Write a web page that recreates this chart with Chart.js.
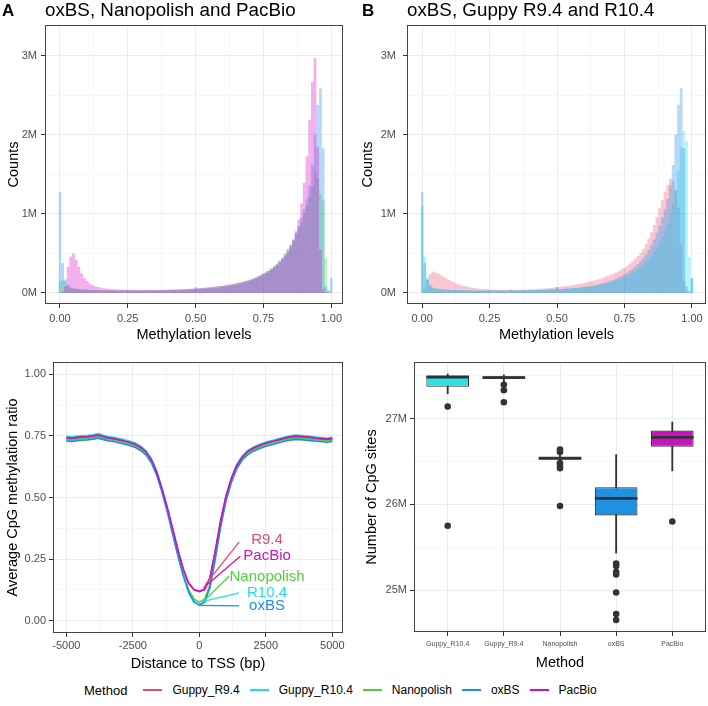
<!DOCTYPE html>
<html><head><meta charset="utf-8">
<script src="https://cdn.jsdelivr.net/npm/chart.js@4.4.0/dist/chart.umd.min.js"></script>
<style>
html,body{margin:0;padding:0;background:#fff;width:708px;height:706px;overflow:hidden;font-family:"Liberation Sans",Arial,sans-serif;}
canvas{position:absolute;}
#legend{position:absolute;left:84px;top:681px;height:18px;display:flex;align-items:center;white-space:nowrap;}
#legend .ttl{font-size:13px;margin-right:16px;color:#000;}
#legend .sw{width:19px;height:1.6px;margin-right:10px;}
#legend .lb{font-size:12px;margin-right:10px;color:#000;}
</style></head><body>
<canvas id="cA" width="354" height="345" style="left:0;top:0"></canvas>
<canvas id="cB" width="354" height="345" style="left:354px;top:0"></canvas>
<canvas id="cC" width="354" height="330" style="left:0;top:345px"></canvas>
<canvas id="cD" width="354" height="330" style="left:354px;top:345px"></canvas>
<div id="legend"></div>
<script>
// ---------------- DATA ----------------
const METHODS = ['Guppy_R9.4','Guppy_R10.4','Nanopolish','oxBS','PacBio'];
const METHOD_COLORS = ['#E9496B','#1FE0E6','#55CC3E','#1E8FE8','#CC10C0'];

const BIN_CENTERS = [0.00,0.01,0.02,0.03,0.04,0.05,0.06,0.07,0.08,0.09,
0.10,0.11,0.12,0.13,0.14,0.15,0.16,0.17,0.18,0.19,
0.20,0.21,0.22,0.23,0.24,0.25,0.26,0.27,0.28,0.29,
0.30,0.31,0.32,0.33,0.34,0.35,0.36,0.37,0.38,0.39,
0.40,0.41,0.42,0.43,0.44,0.45,0.46,0.47,0.48,0.49,
0.50,0.51,0.52,0.53,0.54,0.55,0.56,0.57,0.58,0.59,
0.60,0.61,0.62,0.63,0.64,0.65,0.66,0.67,0.68,0.69,
0.70,0.71,0.72,0.73,0.74,0.75,0.76,0.77,0.78,0.79,
0.80,0.81,0.82,0.83,0.84,0.85,0.86,0.87,0.88,0.89,
0.90,0.91,0.92,0.93,0.94,0.95,0.96,0.97,0.98,0.99,1.00];

// histogram counts (millions)
const OXBS_HIST = [1.28,0.38,0.17,0.10,0.07,0.06,0.052,0.048,0.045,0.042,
0.040,0.038,0.037,0.036,0.035,0.034,0.033,0.033,0.032,0.032,
0.031,0.031,0.030,0.030,0.030,0.036,0.030,0.030,0.030,0.030,
0.030,0.030,0.031,0.040,0.031,0.031,0.032,0.032,0.033,0.033,
0.034,0.035,0.036,0.037,0.038,0.039,0.040,0.042,0.043,0.045,
0.075,0.048,0.050,0.052,0.055,0.058,0.061,0.064,0.068,0.072,
0.080,0.082,0.087,0.092,0.098,0.105,0.113,0.125,0.132,0.143,
0.155,0.168,0.182,0.198,0.215,0.240,0.255,0.278,0.303,0.332,
0.365,0.400,0.440,0.490,0.550,0.610,0.680,0.760,0.850,0.950,
1.06,1.19,1.36,1.62,2.00,2.38,2.59,1.83,0.08,0.02,0.19];

const NANOPOLISH_HIST = [0.15,0.16,0.14,0.09,0.065,0.055,0.050,0.046,0.043,0.041,
0.040,0.039,0.038,0.037,0.036,0.035,0.035,0.034,0.034,0.033,
0.033,0.033,0.032,0.032,0.032,0.032,0.032,0.032,0.032,0.032,
0.033,0.033,0.033,0.034,0.034,0.035,0.035,0.036,0.037,0.038,
0.039,0.040,0.041,0.042,0.044,0.045,0.047,0.049,0.051,0.053,
0.056,0.058,0.061,0.064,0.067,0.070,0.074,0.078,0.082,0.087,
0.092,0.097,0.103,0.109,0.116,0.124,0.132,0.141,0.151,0.162,
0.174,0.187,0.201,0.217,0.234,0.253,0.274,0.297,0.322,0.350,
0.380,0.415,0.455,0.500,0.550,0.610,0.670,0.740,0.820,0.900,
1.00,1.10,1.22,1.35,1.55,1.45,1.25,1.18,0.44,0.04,0.00];

const PACBIO_HIST = [0,0.01,0.08,0.33,0.46,0.50,0.42,0.33,0.25,0.19,
0.15,0.12,0.10,0.085,0.074,0.066,0.060,0.055,0.051,0.048,
0.046,0.044,0.043,0.042,0.041,0.040,0.040,0.039,0.039,0.038,
0.038,0.038,0.038,0.038,0.038,0.038,0.039,0.039,0.040,0.040,
0.041,0.042,0.043,0.044,0.045,0.047,0.048,0.050,0.052,0.054,
0.057,0.059,0.062,0.065,0.068,0.071,0.075,0.079,0.083,0.087,
0.092,0.097,0.102,0.108,0.114,0.121,0.128,0.136,0.145,0.155,
0.165,0.177,0.190,0.204,0.220,0.237,0.256,0.277,0.300,0.326,
0.355,0.388,0.425,0.468,0.520,0.580,0.660,0.780,0.930,1.13,
1.39,1.73,2.19,2.67,2.97,1.85,0.55,0.05,0.01,0,0];

const R94_HIST = [0,0.05,0.18,0.24,0.27,0.26,0.245,0.225,0.205,0.185,
0.165,0.148,0.132,0.118,0.105,0.094,0.085,0.077,0.070,0.064,
0.059,0.055,0.051,0.048,0.046,0.044,0.043,0.042,0.041,0.040,
0.040,0.040,0.040,0.040,0.041,0.041,0.042,0.043,0.044,0.045,
0.047,0.048,0.050,0.052,0.054,0.056,0.059,0.062,0.065,0.068,
0.072,0.076,0.080,0.084,0.089,0.094,0.100,0.106,0.112,0.119,
0.126,0.134,0.142,0.151,0.160,0.170,0.181,0.193,0.205,0.218,
0.232,0.247,0.263,0.280,0.300,0.320,0.345,0.372,0.402,0.435,
0.470,0.510,0.560,0.620,0.690,0.770,0.860,0.960,1.07,1.18,
1.28,1.37,1.44,1.42,1.30,1.08,0.62,0.15,0.02,0,0];

const R104_HIST = [1.10,0.46,0.20,0.09,0.06,0.05,0.045,0.042,0.040,0.038,
0.036,0.035,0.034,0.033,0.032,0.031,0.030,0.030,0.029,0.029,
0.028,0.028,0.028,0.028,0.028,0.030,0.028,0.028,0.028,0.028,
0.028,0.028,0.029,0.034,0.029,0.030,0.030,0.031,0.032,0.032,
0.033,0.034,0.035,0.036,0.037,0.038,0.040,0.041,0.043,0.044,
0.065,0.047,0.049,0.051,0.053,0.055,0.058,0.061,0.064,0.067,
0.071,0.075,0.079,0.084,0.089,0.095,0.101,0.108,0.116,0.124,
0.133,0.143,0.154,0.166,0.179,0.194,0.210,0.228,0.248,0.270,
0.295,0.322,0.352,0.386,0.425,0.470,0.520,0.575,0.640,0.710,
0.79,0.88,0.99,1.12,1.30,1.55,1.85,2.05,1.92,0.45,0.18];

// panel C: distance to TSS (bp) and average methylation ratio
const TSS_DIST = [-5000,-4800,-4600,-4400,-4200,-4000,-3800,-3600,-3400,-3200,
-3000,-2800,-2600,-2400,-2200,-2000,-1800,-1600,-1400,-1200,
-1000,-800,-600,-400,-200,0,200,400,600,800,
1000,1200,1400,1600,1800,2000,2200,2400,2600,2800,
3000,3200,3400,3600,3800,4000,4200,4400,4600,4800,5000];
const TSS_R94 = [0.740,0.738,0.741,0.743,0.744,0.747,0.751,0.745,0.739,0.736,
0.731,0.726,0.720,0.713,0.700,0.682,0.650,0.600,0.532,0.455,
0.370,0.284,0.208,0.153,0.127,0.120,0.128,0.175,0.283,0.405,
0.503,0.575,0.627,0.660,0.682,0.696,0.706,0.714,0.721,0.726,
0.732,0.738,0.743,0.746,0.745,0.743,0.741,0.738,0.736,0.734,0.737];
const TSS_R104 = [0.748,0.746,0.749,0.751,0.752,0.755,0.759,0.753,0.747,0.744,
0.739,0.734,0.728,0.721,0.708,0.690,0.658,0.607,0.535,0.452,
0.360,0.268,0.186,0.119,0.078,0.066,0.078,0.140,0.262,0.392,
0.496,0.575,0.631,0.666,0.689,0.703,0.713,0.721,0.728,0.733,
0.739,0.745,0.750,0.753,0.752,0.750,0.748,0.745,0.743,0.741,0.745];
const TSS_NANOPOLISH = [0.736,0.734,0.737,0.739,0.740,0.743,0.747,0.741,0.735,0.732,
0.727,0.722,0.716,0.709,0.696,0.678,0.646,0.596,0.527,0.447,
0.358,0.268,0.189,0.125,0.087,0.075,0.087,0.147,0.262,0.389,
0.492,0.568,0.622,0.656,0.678,0.692,0.702,0.710,0.717,0.722,
0.728,0.734,0.739,0.742,0.741,0.739,0.737,0.734,0.732,0.730,0.733];
const TSS_OXBS = [0.730,0.728,0.731,0.733,0.734,0.737,0.741,0.735,0.729,0.726,
0.721,0.716,0.710,0.703,0.690,0.672,0.640,0.590,0.520,0.440,
0.350,0.260,0.180,0.115,0.075,0.063,0.075,0.135,0.250,0.380,
0.485,0.560,0.615,0.650,0.672,0.686,0.696,0.704,0.711,0.716,
0.722,0.728,0.733,0.736,0.735,0.733,0.731,0.728,0.726,0.724,0.727];
const TSS_PACBIO = [0.743,0.741,0.744,0.746,0.747,0.750,0.754,0.748,0.742,0.739,
0.734,0.729,0.723,0.716,0.703,0.685,0.653,0.603,0.535,0.458,
0.372,0.285,0.208,0.152,0.125,0.118,0.126,0.174,0.283,0.406,
0.505,0.577,0.629,0.663,0.685,0.699,0.709,0.717,0.724,0.729,
0.735,0.741,0.746,0.749,0.748,0.746,0.744,0.741,0.739,0.737,0.740];

// panel C direct labels (data coordinates)
const C_LABELS = ['R9.4','PacBio','Nanopolish','R10.4','oxBS'];
const C_LABEL_COLORS = ['#E9496B','#CC10C0','#55CC3E','#1FE0E6','#1E8FE8'];
const C_LABEL_FROM_X = [220,150,220,150,0];
const C_LABEL_FROM_Y = [0.145,0.133,0.085,0.078,0.062];
const C_LABEL_TO_X = [1500,1540,1120,1500,1500];
const C_LABEL_TO_Y = [0.320,0.262,0.180,0.113,0.060];
const C_LABEL_TEXT_X = [2545,2545,2545,2545,2545];
const C_LABEL_TEXT_Y = [0.330,0.262,0.177,0.113,0.060];

// panel D: boxplot statistics (millions of CpG sites)
const BOX_METHODS = ['Guppy_R10.4','Guppy_R9.4','Nanopolish','oxBS','PacBio'];
const BOX_FILL = ['#2EE0E2','#E9496B','#55CC3E','#2090E0','#CC12BE'];
const BOX_Q1 = [27.37,27.463,26.522,25.87,26.67];
const BOX_MEDIAN = [27.485,27.478,26.537,26.07,26.78];
const BOX_Q3 = [27.50,27.493,26.552,26.20,26.86];
const BOX_WHISK_LO = [27.29,27.42,26.49,25.43,26.39];
const BOX_WHISK_HI = [27.52,27.51,26.58,26.58,26.96];
const OUTLIER_METHOD = [1,1,2,2,2,3,3,3,3,3,3,4,4,4,4,4,4,4,5];
const OUTLIER_VALUE = [27.14,25.75,27.395,27.33,27.19,26.64,26.61,26.48,26.45,26.42,25.98,25.31,25.28,25.21,25.18,24.97,24.72,24.65,25.80];

// ticks
const HIST_X_MAJOR = [0,0.25,0.5,0.75,1];
const HIST_X_MINOR = [0.125,0.375,0.625,0.875];
const HIST_X_LABELS = ['0.00','0.25','0.50','0.75','1.00'];
const HIST_Y_MAJOR = [0,1,2,3];
const HIST_Y_MINOR = [0.5,1.5,2.5];
const HIST_Y_LABELS = ['0M','1M','2M','3M'];
const TSS_X_MAJOR = [-5000,-2500,0,2500,5000];
const TSS_X_MINOR = [-3750,-1250,1250,3750];
const TSS_X_LABELS = ['-5000','-2500','0','2500','5000'];
const RATIO_Y_MAJOR = [0,0.25,0.5,0.75,1];
const RATIO_Y_MINOR = [0.125,0.375,0.625,0.875];
const RATIO_Y_LABELS = ['0.00','0.25','0.50','0.75','1.00'];
const CPG_Y_MAJOR = [25,26,27];
const CPG_Y_MINOR = [25.5,26.5,27.5];
const CPG_Y_LABELS = ['25M','26M','27M'];
const BOX_X_MAJOR = [1,2,3,4,5];

// ---------------- STYLE / HELPERS ----------------
const FONT = '"Liberation Sans", Arial, Helvetica, sans-serif';
Chart.defaults.font.family = FONT;
Chart.defaults.animation = false;
Chart.defaults.responsive = false;
Chart.defaults.devicePixelRatio = 1;
Chart.defaults.events = [];
Chart.defaults.plugins.legend.display = false;
Chart.defaults.plugins.tooltip.enabled = false;

function near(list, v){ return list.findIndex(m => Math.abs(m - v) < 1e-9); }
function axis(major, minor, labels, o){
  const isMinor = c => c.tick && near(minor, c.tick.value) >= 0;
  return {
    type:'linear', min:o.min, max:o.max, offset:false, bounds:'data',
    afterBuildTicks: s => { s.ticks = major.concat(minor).sort((a,b)=>a-b).map(v => ({value:v})); },
    afterFit: s => { if (o.width !== undefined) s.width = o.width; if (o.height !== undefined) s.height = o.height;
                     s.paddingLeft = 0; s.paddingRight = 0; s.paddingTop = 0; s.paddingBottom = 0; },
    ticks:{ autoSkip:false, maxRotation:0, minRotation:0, color:'#4D4D4D', padding:o.pad,
      font:{size:o.tickSize || 11, family:FONT},
      callback: v => { const i = near(major, v); return i < 0 ? '' : labels[i]; } },
    grid:{ offset:false,
           color: c => isMinor(c) ? '#F2F2F2' : '#EBEBEB',
           lineWidth: c => isMinor(c) ? 0.6 : 1,
           tickColor: c => isMinor(c) ? 'rgba(0,0,0,0)' : '#333333',
           tickLength:4, drawTicks:true },
    border:{display:false},
    title:{display:true, text:o.title, color:'#000', font:{size:14.5, family:FONT},
           padding:{top:o.tpad, bottom:o.tpad}}
  };
}

const panelText = {
  id:'panelText',
  afterDraw(chart, args, o){
    const ctx = chart.ctx, a = chart.chartArea;
    ctx.save();
    ctx.strokeStyle = '#444'; ctx.lineWidth = 1;
    ctx.strokeRect(Math.round(a.left)+0.5, Math.round(a.top)+0.5, Math.round(a.right-a.left)-1, Math.round(a.bottom-a.top)-1);
    ctx.fillStyle = '#000'; ctx.textBaseline = 'alphabetic'; ctx.textAlign = 'left';
    if (o.letter){ ctx.font = 'bold 17px ' + FONT; ctx.fillText(o.letter, o.lx, o.ly); }
    if (o.title){ ctx.font = '18.8px ' + FONT; ctx.fillText(o.title, o.tx, o.ty); }
    ctx.restore();
  }
};
Chart.register(panelText);

// histogram drawn as a stepped filled area: each bin spans centre +/- half the bin spacing
const HALF_BIN = (BIN_CENTERS[1] - BIN_CENTERS[0]) / 2;
function histDatasets(names, series, colors){
  return names.map((n, k) => {
    const pts = BIN_CENTERS.map((x, i) => ({x: x - HALF_BIN, y: series[k][i]}));
    pts.push({x: BIN_CENTERS[BIN_CENTERS.length - 1] + HALF_BIN, y: series[k][series[k].length - 1]});
    return { label:n, data:pts, stepped:'before', fill:'origin',
      backgroundColor: colors[k], borderColor:'rgba(0,0,0,0)', borderWidth:0, pointRadius:0, tension:0 };
  });
}

const COMMON_LAYOUT = (t, r) => ({autoPadding:false, padding:{top:t, right:r, left:0, bottom:0}});

// ---------------- PANEL A ----------------  (first dataset is painted on top)
new Chart(document.getElementById('cA'), {
  type:'line',
  data:{ datasets: histDatasets(['PacBio','oxBS','Nanopolish'],
    [PACBIO_HIST, OXBS_HIST, NANOPOLISH_HIST],
    ['rgba(220,16,205,0.33)','rgba(30,143,232,0.33)','rgba(85,204,62,0.33)']) },
  options:{
    layout: COMMON_LAYOUT(25, 11),
    scales:{
      x: axis(HIST_X_MAJOR, HIST_X_MINOR, HIST_X_LABELS, {min:-0.055,max:1.043,height:41,pad:4,tpad:1.5,title:'Methylation levels'}),
      y: axis(HIST_Y_MAJOR, HIST_Y_MINOR, HIST_Y_LABELS, {min:-0.14,max:3.39,width:45,pad:4,tpad:5,title:'Counts'})
    },
    plugins:{ filler:{propagate:false}, panelText:{letter:'A', lx:2, ly:16, title:'oxBS, Nanopolish and PacBio', tx:45, ty:16} }
  }
});

// ---------------- PANEL B ----------------
new Chart(document.getElementById('cB'), {
  type:'line',
  data:{ datasets: histDatasets(['oxBS','Guppy_R10.4','Guppy_R9.4'],
    [OXBS_HIST, R104_HIST, R94_HIST],
    ['rgba(30,143,232,0.33)','rgba(31,224,230,0.33)','rgba(233,73,107,0.30)']) },
  options:{
    layout: COMMON_LAYOUT(25, 2),
    scales:{
      x: axis(HIST_X_MAJOR, HIST_X_MINOR, HIST_X_LABELS, {min:-0.056,max:1.052,height:41,pad:4,tpad:1.5,title:'Methylation levels'}),
      y: axis(HIST_Y_MAJOR, HIST_Y_MINOR, HIST_Y_LABELS, {min:-0.14,max:3.39,width:53,pad:7,tpad:5,title:'Counts'})
    },
    plugins:{ filler:{propagate:false}, panelText:{letter:'B', lx:8, ly:16, title:'oxBS, Guppy R9.4 and R10.4', tx:53, ty:16} }
  }
});

// ---------------- PANEL C ----------------
const TSS_SERIES = [TSS_R94, TSS_R104, TSS_NANOPOLISH, TSS_OXBS, TSS_PACBIO];
const cLabels = {
  id:'cLabels',
  afterDatasetsDraw(chart){
    const ctx = chart.ctx, xs = chart.scales.x, ys = chart.scales.y;
    ctx.save();
    ctx.font = '15px ' + FONT; ctx.textAlign = 'center'; ctx.textBaseline = 'middle';
    C_LABELS.forEach((t, i) => {
      ctx.strokeStyle = C_LABEL_COLORS[i]; ctx.lineWidth = 1.3;
      ctx.beginPath();
      ctx.moveTo(xs.getPixelForValue(C_LABEL_FROM_X[i]), ys.getPixelForValue(C_LABEL_FROM_Y[i]));
      ctx.lineTo(xs.getPixelForValue(C_LABEL_TO_X[i]), ys.getPixelForValue(C_LABEL_TO_Y[i]));
      ctx.stroke();
      ctx.fillStyle = C_LABEL_COLORS[i];
      ctx.fillText(t, xs.getPixelForValue(C_LABEL_TEXT_X[i]), ys.getPixelForValue(C_LABEL_TEXT_Y[i]));
    });
    ctx.restore();
  }
};
new Chart(document.getElementById('cC'), {
  type:'line',
  data:{ datasets: METHODS.map((m, k) => ({
    label:m, data: TSS_DIST.map((x, i) => ({x:x, y:TSS_SERIES[k][i]})),
    borderColor: METHOD_COLORS[k], borderWidth:1.6, pointRadius:0, fill:false, tension:0,
    order: 5 - k
  })) },
  options:{
    layout: COMMON_LAYOUT(17, 11),
    scales:{
      x: axis(TSS_X_MAJOR, TSS_X_MINOR, TSS_X_LABELS, {min:-5500,max:5400,height:42,pad:2.5,tpad:2,title:'Distance to TSS (bp)'}),
      y: axis(RATIO_Y_MAJOR, RATIO_Y_MINOR, RATIO_Y_LABELS, {min:-0.05,max:1.05,width:53,pad:3,tpad:4.5,title:'Average CpG methylation ratio'})
    },
    plugins:{ panelText:{letter:'C', lx:2, ly:377} }
  },
  plugins:[cLabels]
});

// ---------------- PANEL D ----------------
new Chart(document.getElementById('cD'), {
  type:'bar',
  data:{ datasets:[
    { type:'bar', label:'whisker', order:4, grouped:false,
      data: BOX_METHODS.map((m, i) => ({x:i+1, y:[BOX_WHISK_LO[i], BOX_WHISK_HI[i]]})),
      backgroundColor:'#333333', barThickness:1.2, borderWidth:0 },
    { type:'bar', label:'box', order:3, grouped:false,
      data: BOX_METHODS.map((m, i) => ({x:i+1, y:[BOX_Q1[i], BOX_Q3[i]]})),
      backgroundColor: BOX_FILL, borderColor:'#333333', borderWidth:1.1, borderSkipped:false,
      barPercentage:0.76, categoryPercentage:1 },
    { type:'scatter', label:'median', order:2,
      data: BOX_METHODS.map((m, i) => ({x:i+1, y:BOX_MEDIAN[i]})),
      pointStyle:'line', pointRadius:21.3, pointBorderColor:'#333333', pointBorderWidth:2.8, borderColor:'#333333' },
    { type:'scatter', label:'outliers', order:1,
      data: OUTLIER_METHOD.map((m, i) => ({x:m, y:OUTLIER_VALUE[i]})),
      pointRadius:3.3, pointBackgroundColor:'#333333', pointBorderWidth:0, backgroundColor:'#333333' }
  ]},
  options:{
    layout: COMMON_LAYOUT(17, 2),
    scales:{
      x: axis(BOX_X_MAJOR, [], BOX_METHODS, {min:0.4,max:5.6,height:43,pad:3.5,tpad:3,tickSize:7,title:'Method'}),
      y: axis(CPG_Y_MAJOR, CPG_Y_MINOR, CPG_Y_LABELS, {min:24.51,max:27.66,width:60,pad:3,tpad:9,title:'Number of CpG sites'})
    },
    plugins:{ panelText:{letter:'D', lx:8, ly:377} }
  }
});

// ---------------- LEGEND ----------------
(function(){
  const lg = document.getElementById('legend');
  const t = document.createElement('span'); t.className = 'ttl'; t.textContent = 'Method'; lg.appendChild(t);
  METHODS.forEach((m, i) => {
    const s = document.createElement('span'); s.className = 'sw'; s.style.background = METHOD_COLORS[i]; lg.appendChild(s);
    const l = document.createElement('span'); l.className = 'lb'; l.textContent = m; lg.appendChild(l);
  });
})();
</script>
</body></html>
